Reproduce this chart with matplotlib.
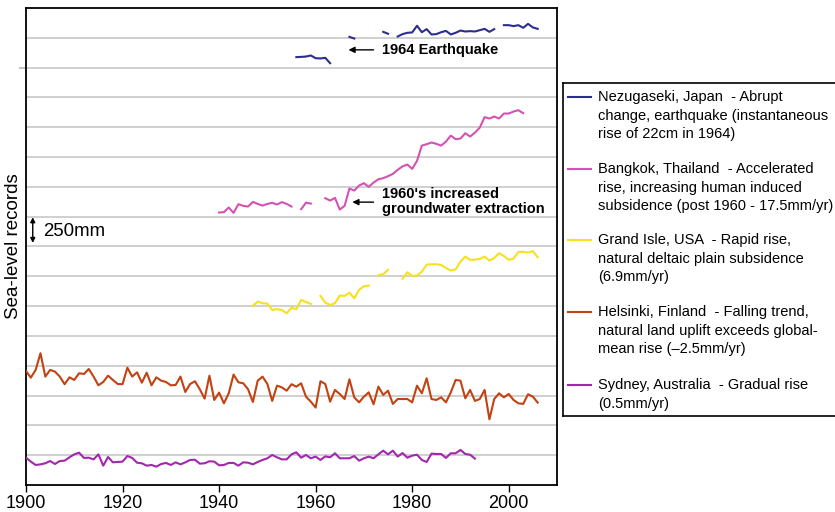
import numpy as np
import matplotlib
matplotlib.use('Agg')
import matplotlib.pyplot as plt

plt.rcParams['font.family'] = ['Liberation Sans', 'DejaVu Sans']

nan = np.nan

# ---- data (plotted sea level, mm on an arbitrary offset scale) ----
japan_start = 1956
japan = [3588, 3590, 3593, 3602, 3579, 3577, 3582, 3537, nan, nan, nan,
         3758, 3744, nan, nan, nan, nan, nan, 3800, 3784, nan,
         3761, 3781, 3792, 3795, 3851, 3797, 3823, 3778, 3781, 3797,
         3808, 3778, 3792, 3811, 3803, 3806, 3803, 3814, 3825, 3800, 3823, nan,
         3856, 3856, 3848, 3856, 3834, 3867, 3837, 3825]

bangkok_start = 1940
bangkok = [2285, 2288, 2327, 2282, 2355, 2341, 2335, 2374, 2357, 2343, 2357, 2366,
           2352, 2372, 2357, 2335, nan, 2313, 2368, 2360, nan, nan,
           2405, 2385, 2408, 2310, 2341, 2486, 2469, 2511, 2531, 2500, 2536, 2564,
           2573, 2590, 2609, 2643, 2672, 2687, 2651, 2718,
           2846, 2858, 2872, 2861, 2846, 2880, 2930, 2900, 2905, 2950, 2922, 2955,
           2997, 3085, 3073, 3090, 3073, 3115, 3115, 3132, 3143, 3118]

grandisle_start = 1947
grandisle = [1502, 1538, 1524, 1521, 1468, 1474, 1468, 1440, 1487, 1474, 1552, 1535, 1518,
             nan,
             1586, 1529, 1510, 1524, 1588, 1586, 1613, 1566, 1636, 1667, 1672,
             nan,
             1759, 1768, 1804,
             nan, nan,
             1728, 1784, 1753, 1756, 1789, 1848, 1851, 1851, 1846, 1820, 1798, 1809,
             1873, 1915, 1888, 1890, 1896, 1915, 1882, 1904, 1944, 1921, 1888, 1898,
             1955, 1955, 1949, 1961, 1910]

helsinki_start = 1900
helsinki = [956, 900, 965, 1105, 909, 965, 951, 909, 845, 903,
            881, 937, 931, 973, 909, 836, 864, 917, 881, 847,
            845, 984, 909, 945, 858, 942, 836, 903, 875, 864,
            836, 839, 909, 780, 847, 870, 803, 724, 917, 713,
            775, 685, 769, 926, 861, 853, 803, 696, 875, 909,
            847, 705, 833, 819, 791, 845, 825, 853, 741, 699,
            649, 870, 847, 699, 797, 763, 721, 886, 735, 693,
            741, 777, 677, 825, 755, 791, 680, 721, 721, 721,
            693, 833, 769, 895, 721, 713, 735, 693, 777, 881,
            875, 727, 797, 705, 721, 797, 551, 721, 769, 735,
            763, 713, 685, 680, 761, 741, 691]

sydney_start = 1900
sydney = [229, 196, 168, 173, 182, 201, 176, 201, 204, 232,
          257, 271, 227, 229, 215, 257, 162, 235, 190, 193,
          196, 243, 227, 187, 182, 162, 168, 154, 176, 185,
          168, 190, 173, 190, 210, 212, 179, 182, 199, 196,
          165, 168, 185, 185, 162, 190, 187, 173, 193, 210,
          224, 252, 232, 215, 215, 257, 274, 229, 252, 224,
          238, 210, 240, 232, 266, 224, 224, 224, 243, 204,
          224, 238, 224, 257, 288, 257, 288, 238, 268, 229,
          246, 254, 210, 193, 263, 260, 260, 227, 266, 266,
          294, 260, 254, 221]

series = [
    (japan_start, japan, '#2d2d8e',
     ['Nezugaseki, Japan  - Abrupt', 'change, earthquake (instantaneous', 'rise of 22cm in 1964)']),
    (bangkok_start, bangkok, '#d452b3',
     ['Bangkok, Thailand  - Accelerated', 'rise, increasing human induced', 'subsidence (post 1960 - 17.5mm/yr)']),
    (grandisle_start, grandisle, '#f6e11c',
     ['Grand Isle, USA  - Rapid rise,', 'natural deltaic plain subsidence', '(6.9mm/yr)']),
    (helsinki_start, helsinki, '#c24212',
     ['Helsinki, Finland  - Falling trend,', 'natural land uplift exceeds global-', 'mean rise (\u20132.5mm/yr)']),
    (sydney_start, sydney, '#a327ad',
     ['Sydney, Australia  - Gradual rise', '(0.5mm/yr)']),
]

grid_levels = [250 * i for i in range(1, 16)]
x_ticks = [1900, 1920, 1940, 1960, 1980, 2000]

fig = plt.figure(figsize=(8.35, 5.12), dpi=100)
ax = fig.add_axes([26 / 835, 27 / 512, 531 / 835, 477 / 512])

for g in grid_levels:
    ax.axhline(g, color='#c8c8c8', lw=1.2, zorder=0)

for start, vals, col, _ in series:
    yrs = np.arange(start, start + len(vals))
    ax.plot(yrs, vals, color=col, lw=1.5, zorder=3)

ax.set_xlim(1900, 2010)
ax.set_ylim(0, 4000)
ax.set_xticks(x_ticks)
ax.set_xticklabels([str(t) for t in x_ticks], fontsize=13)
ax.tick_params(axis='x', direction='out', length=5, width=1, pad=2)
ax.set_yticks([3500])
ax.set_yticklabels([''])
ax.tick_params(axis='y', direction='out', length=5, width=1.2, color='#b8b8b8')
for s in ax.spines.values():
    s.set_linewidth(1.3)
    s.set_color('black')

# annotations
ax.annotate('', xy=(1966.8, 3649), xytext=(1972.0, 3649),
            arrowprops=dict(arrowstyle='-|>', color='black', lw=1, mutation_scale=9,
                            shrinkA=0, shrinkB=0))
ax.text(1973.7, 3649, '1964 Earthquake', fontsize=10.5, fontweight='bold',
        ha='left', va='center')

ax.annotate('', xy=(1967.6, 2372), xytext=(1972.0, 2372),
            arrowprops=dict(arrowstyle='-|>', color='black', lw=1, mutation_scale=9,
                            shrinkA=0, shrinkB=0))
ax.text(1973.7, 2378, "1960's increased\ngroundwater extraction", fontsize=10.5,
        fontweight='bold', ha='left', va='center', linespacing=1.05)

ax.annotate('', xy=(1901.4, 2245), xytext=(1901.4, 2030),
            arrowprops=dict(arrowstyle='<|-|>', color='black', lw=1, mutation_scale=7,
                            shrinkA=0, shrinkB=0))
ax.text(1903.5, 2122, '250mm', fontsize=13.4, ha='left', va='center')

fig.text(14 / 835, 1 - 246 / 512, 'Sea-level records', rotation=90, fontsize=13.5,
         ha='center', va='center')

# legend box (its right edge runs past the picture, as in the original)
lax = fig.add_axes([563 / 835, (512 - 416) / 512, 280 / 835, 333 / 512])
lax.set_xlim(0, 280)
lax.set_ylim(333, 0)
lax.set_xticks([])
lax.set_yticks([])
for s in lax.spines.values():
    s.set_linewidth(1.2)
    s.set_color('black')
first_rows = [14, 86, 157, 229, 302]
for (start, vals, col, lines), y0 in zip(series, first_rows):
    lax.plot([4.7, 28], [y0, y0], color=col, lw=1.5)
    for j, line in enumerate(lines):
        lax.text(35, y0 + j * 18.7, line, fontsize=10.5, ha='left', va='center')

fig.savefig('out.png', dpi=100)
